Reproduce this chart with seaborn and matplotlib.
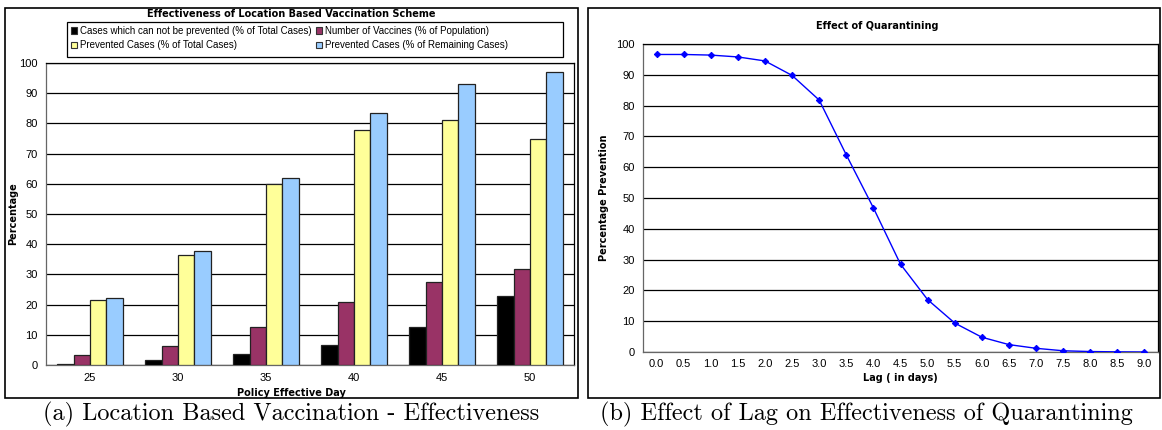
import matplotlib
matplotlib.use("Agg")
import matplotlib.pyplot as plt
from matplotlib.patches import Rectangle
import seaborn as sns
import pandas as pd
import numpy as np

# ---------------- data ----------------
days = [25, 30, 35, 40, 45, 50]
series_names = [
    "Cases which can not be prevented (% of Total Cases)",
    "Number of Vaccines (% of Population)",
    "Prevented Cases (% of Total Cases)",
    "Prevented Cases (% of Remaining Cases)",
]
not_prevented = [0.3, 1.8, 3.5, 6.7, 12.6, 22.8]
vaccines = [3.3, 6.4, 12.7, 20.7, 27.5, 31.8]
prevented_total = [21.5, 36.3, 59.8, 77.7, 81.2, 75.0]
prevented_remaining = [22.3, 37.6, 62.0, 83.3, 93.0, 97.0]
bar_colors = ["#000000", "#993366", "#FFFF99", "#99CCFF"]

lag_labels = ["0.0", "0.5", "1.0", "1.5", "2.0", "2.5", "3.0", "3.5", "4.0", "4.5",
              "5.0", "5.5", "6.0", "6.5", "7.0", "7.5", "8.0", "8.5", "9.0"]
prevention = [96.6, 96.6, 96.4, 95.8, 94.5, 89.8, 81.8, 64.0, 46.8, 28.5,
              17.0, 9.4, 4.8, 2.4, 1.2, 0.4, 0.15, 0.05, 0.0]

yticks = [0, 10, 20, 30, 40, 50, 60, 70, 80, 90, 100]

# ---------------- figure ----------------
sns.set_theme(style="white")
plt.rcParams["font.family"] = ["Liberation Sans", "DejaVu Sans"]
plt.rcParams["text.color"] = "black"
plt.rcParams["xtick.color"] = "black"
plt.rcParams["ytick.color"] = "black"
W, H = 1162, 430
fig = plt.figure(figsize=(W / 100, H / 100), dpi=100)
fig.patch.set_facecolor("white")

def fax(x0, y0, x1, y1):
    return [x0 / W, 1 - y1 / H, (x1 - x0) / W, (y1 - y0) / H]

def ftext(x, y, s, **kw):
    return fig.text(x / W, 1 - y / H, s, **kw)

def frect(x0, y0, x1, y1, lw):
    fig.patches.append(Rectangle((x0 / W, 1 - y1 / H), (x1 - x0) / W, (y1 - y0) / H,
                                 transform=fig.transFigure, fill=False,
                                 edgecolor="black", linewidth=lw))

# panel boxes
frect(5, 8, 578, 398, 1.2)
frect(588, 8, 1160, 398, 1.2)

tick_fs = 8
bold_kw = dict(fontsize=7, fontweight="bold", family=["DejaVu Sans"], ha="center",
               va="center", color="black")

def style_axes(ax, ncat, xpad):
    ax.set_ylim(0, 100)
    ax.set_xlim(-0.5, ncat - 0.5)
    ax.set_yticks(yticks)
    ax.set_xticks(np.arange(ncat + 1) - 0.5)
    ax.set_xticklabels([])
    ax.set_xticks(np.arange(ncat), minor=True)
    ax.tick_params(axis="x", which="major", length=4, width=0.8, direction="out",
                   color="#444444")
    ax.tick_params(axis="x", which="minor", length=0, pad=xpad, labelsize=tick_fs,
                   labelcolor="black")
    ax.tick_params(axis="y", length=4, width=0.8, direction="out", labelsize=tick_fs,
                   pad=2, color="#444444", labelcolor="black")
    ax.grid(axis="y", color="black", linewidth=0.9, zorder=0)
    ax.set_axisbelow(True)
    for s in ax.spines.values():
        s.set_visible(True)
        s.set_color("black")
        s.set_linewidth(0.9)
    ax.spines["left"].set_color("#666666")
    ax.spines["bottom"].set_color("#666666")
    ax.set_xlabel("")
    ax.set_ylabel("")

# ---------------- left: bar chart ----------------
ax1 = fig.add_axes(fax(46, 63, 574, 365))
df = pd.DataFrame({
    "day": np.repeat(days, 4),
    "series": series_names * len(days),
    "value": np.array([not_prevented, vaccines, prevented_total, prevented_remaining]).T.ravel(),
})
sns.barplot(data=df, x="day", y="value", hue="series", hue_order=series_names,
            palette=bar_colors, width=0.74, edgecolor="#222222", linewidth=0.9,
            saturation=1, ax=ax1, legend=False, zorder=3)
style_axes(ax1, len(days), 6)
ax1.set_xticklabels([str(d) for d in days], minor=True)
ftext(291, 393, "Policy Effective Day", **bold_kw)
ftext(13, 214, "Percentage", rotation=90, **bold_kw)
ftext(291, 14, "Effectiveness of Location Based Vaccination Scheme", **bold_kw)

handles = [Rectangle((0, 0), 1, 1, facecolor=c, edgecolor="#333333", linewidth=0.8) for c in bar_colors]
order = [0, 2, 1, 3]
leg = fig.legend([handles[i] for i in order], [series_names[i] for i in order],
                 ncol=2, loc="upper left", bbox_to_anchor=(67 / W, 1 - 22 / H),
                 fontsize=7, frameon=False, labelcolor="black",
                 handlelength=0.65, handleheight=0.65, handletextpad=0.25,
                 columnspacing=0.5, borderpad=0.4, labelspacing=0.45, borderaxespad=0)
frect(67, 22, 563, 57, 0.9)

# ---------------- right: line chart ----------------
ax2 = fig.add_axes(fax(643, 44, 1158, 352))
df2 = pd.DataFrame({"lag": lag_labels, "prevention": prevention})
sns.pointplot(data=df2, x="lag", y="prevention", color="#0000FF", markers="D",
              markersize=3.2, linewidth=1.0, ax=ax2, zorder=3)
style_axes(ax2, len(lag_labels), 5)
ax2.set_xticklabels(lag_labels, minor=True)
ftext(900, 378, "Lag ( in days)", **bold_kw)
ftext(604, 198, "Percentage Prevention", rotation=90, **bold_kw)
ftext(877, 26, "Effect of Quarantining", **bold_kw)

# ---------------- captions ----------------
cap_font = dict(fontsize=17.5, family=["cmr10", "DejaVu Serif"], ha="center", va="center",
                color="black")
ftext(291, 414, "(a) Location Based Vaccination - Effectiveness", **cap_font)
ftext(866, 414, "(b) Effect of Lag on Effectiveness of Quarantining", **cap_font)

fig.savefig("out.png", dpi=100, facecolor="white")
